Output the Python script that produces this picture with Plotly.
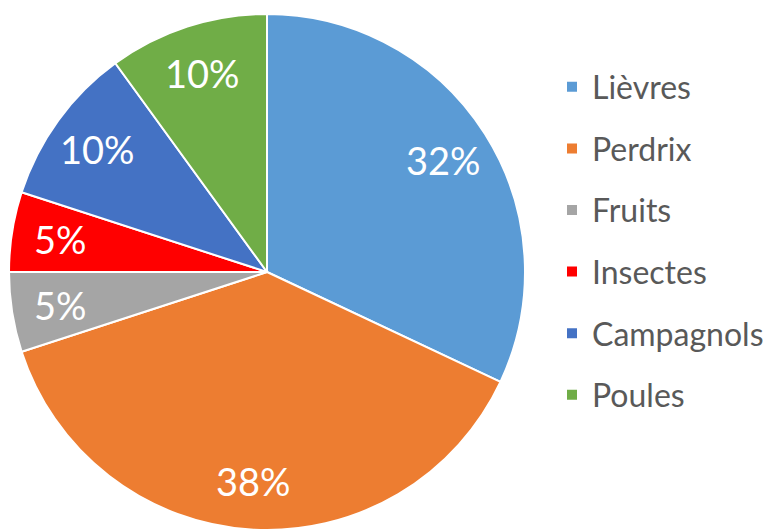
import math
import plotly.graph_objects as go

labels = ["Lièvres", "Perdrix", "Fruits", "Insectes", "Campagnols", "Poules"]
values = [32, 38, 5, 5, 10, 10]
colors = ["#5B9BD5", "#ED7D31", "#A5A5A5", "#FF0000", "#4472C4", "#70AD47"]

W, H = 777, 530
cx, cy, r = 267, 272, 258
label_frac = 0.81

fig = go.Figure()
fig.add_trace(go.Pie(
    labels=labels, values=values, sort=False, direction="clockwise", rotation=0,
    marker=dict(colors=colors, line=dict(color="white", width=2)),
    textinfo="none",
    showlegend=False, hoverinfo="label+percent",
    domain=dict(x=[(cx - r) / W, (cx + r) / W], y=[(H - cy - r) / H, (H - cy + r) / H]),
))
for lab, col in zip(labels, colors):
    fig.add_trace(go.Scatter(
        x=[None], y=[None], mode="markers", name=lab, legendgroup=lab,
        marker=dict(symbol="square", size=10, color=col),
    ))

# percentage labels placed at the middle angle of each slice
total = sum(values)
start = 0.0
for v in values:
    frac = v / total
    mid = (start + frac / 2) * 2 * math.pi
    start += frac
    px = cx + label_frac * r * math.sin(mid)
    py = cy - label_frac * r * math.cos(mid)
    fig.add_annotation(
        x=px / W, y=1 - py / H, xref="paper", yref="paper",
        text=f"{round(frac * 100)}%", showarrow=False,
        font=dict(family="Lato", size=38, color="white"),
        xanchor="center", yanchor="middle",
    )

fig.update_layout(
    width=W, height=H, margin=dict(l=0, r=0, t=0, b=0),
    paper_bgcolor="white", plot_bgcolor="white",
    xaxis=dict(visible=False), yaxis=dict(visible=False),
    legend=dict(x=552 / W, xanchor="left", y=1 - 241 / H, yanchor="middle",
                font=dict(family="Lato", size=32, color="#595959"),
                tracegroupgap=17, itemclick=False),
)
fig.write_html("out.html", config={"displayModeBar": False},
               post_script="document.body.style.margin='0';")
